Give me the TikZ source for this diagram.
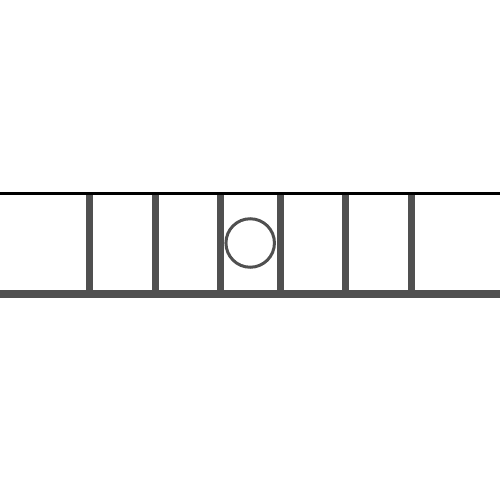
\documentclass[tikz,border=0pt]{standalone}
\definecolor{bargray}{RGB}{80,80,80}
\tikzset{bar/.style={draw=bargray,line width=7pt},
  topline/.style={draw=black,line width=3.6pt},
  ring/.style={draw=bargray,line width=3pt}}
\begin{document}
\begin{tikzpicture}[x=1pt,y=-1pt]
\useasboundingbox (0,0) rectangle (500,500);
\foreach \xx [count=\i] in {89.7,155.3,220.3,280.3,345.3,411}{
  \coordinate (t\i) at (\xx,193.5);
  \coordinate (b\i) at (\xx,294);
  \draw[bar] (t\i) -- (b\i);
}
\coordinate (bl) at (0,294);
\coordinate (br) at (500,294);
\draw[draw=bargray,line width=8pt] (bl) -- (br);
\coordinate (tl) at (0,193.5);
\coordinate (tr) at (500,193.5);
\draw[topline] (tl) -- (tr);
\node[circle,ring,minimum size=48.5pt,inner sep=0pt] (c) at (250.2,243) {};
\end{tikzpicture}
\end{document}
